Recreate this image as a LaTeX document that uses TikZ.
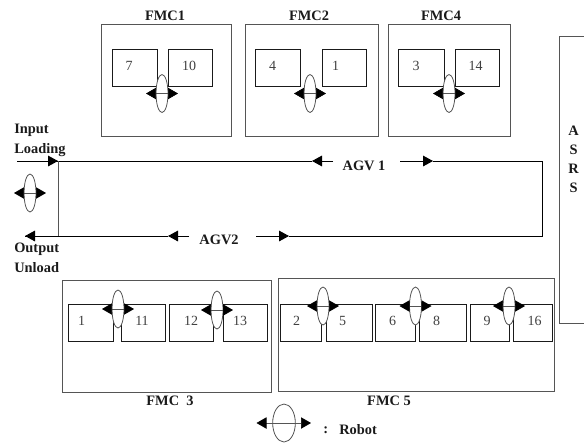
\documentclass[tikz,border=0pt]{standalone}
\usepackage{fontspec}
\setmainfont{Liberation Serif}
\usetikzlibrary{shapes.geometric,arrows.meta,fit}
\definecolor{boxgrey}{HTML}{555555}
\definecolor{inkdark}{HTML}{1A1A1A}
\tikzset{
  cellbox/.style={draw=boxgrey,line width=0.7pt,inner sep=0pt,fit={#1}},
  machine/.style={draw=inkdark,line width=0.6pt,inner sep=0pt,fit={#1}},
  num/.style={font=\fontsize{10.5}{12}\selectfont,text=black!75,inner sep=0pt},
  ttl/.style={font=\fontsize{10.8}{12}\bfseries\selectfont,text=inkdark,inner sep=0pt},
  robotbody/.style={ellipse,draw=boxgrey,fill=white,line width=0.6pt,inner sep=0pt},
  robotarm/.style={draw=boxgrey,line width=0.5pt,{Triangle[length=7.5pt,width=8.5pt,color=black]}-{Triangle[length=7.5pt,width=8.5pt,color=black]}},
  agv/.style={draw=black,line width=0.7pt},
  agvtip/.style={-{Triangle[length=7.5pt,width=8pt,color=black]}},
  plainline/.style={draw=boxgrey,line width=0.7pt}
}
\newcommand{\mkmachine}[7]{% name x1 y1 x2 y2 label labelx
  \node[machine={(#2,#3)(#4,#5)}] (#1) {};
  \node[num] (#1t) at (#7,{#3+16.5}) {#6};
}
\newcommand{\mkrobot}[3]{% name x y
  \node[robotbody,minimum width=9pt,minimum height=28.5pt] (#1) at (#2,#3) {};
  \coordinate (#1L) at ({#2-16},#3);
  \coordinate (#1R) at ({#2+16},#3);
  \draw[robotarm] (#1L) -- (#1R);
}
\begin{document}
\begin{tikzpicture}[x=0.75pt,y=-0.75pt]
\useasboundingbox (0,0) rectangle (584,443);
% FMC boxes
\node[cellbox={(101.5,24)(231,136)}] (fmcA) {};
\node[cellbox={(245,24)(378,136)}] (fmcB) {};
\node[cellbox={(388.5,24)(510,136)}] (fmcD) {};
\node[cellbox={(62,280)(271.5,392)}] (fmcC) {};
\node[cellbox={(278,278)(554,391)}] (fmcE) {};
\node[ttl] (tA) at (165,16) {FMC1};
\node[ttl] (tB) at (309,16) {FMC2};
\node[ttl] (tD) at (441,16) {FMC4};
\node[ttl] (tC) at (170,401) {FMC\ \ 3};
\node[ttl] (tE) at (389,401) {FMC 5};
% machines
\mkmachine{ma}{112.5}{49.5}{157}{86.5}{7}{129}
\mkmachine{mb}{168}{49.5}{212.5}{86.5}{10}{189}
\mkmachine{mc}{255.5}{49.5}{300}{86.5}{4}{272.5}
\mkmachine{md}{322}{49.5}{366.5}{86.5}{1}{335.5}
\mkmachine{me}{398.5}{49.5}{444}{86.5}{3}{416}
\mkmachine{mf}{455}{49.5}{499}{86.5}{14}{475.5}
\mkmachine{mg}{68}{304}{113}{341}{1}{81.5}
\mkmachine{mh}{121}{304}{165.5}{341}{11}{142}
\mkmachine{mi}{169.5}{304}{213.5}{341}{12}{191}
\mkmachine{mj}{223}{304}{267}{341}{13}{240}
\mkmachine{mk}{280}{304}{321.5}{341}{2}{296.5}
\mkmachine{ml}{326}{304}{372.5}{341}{5}{342.5}
\mkmachine{mm}{375.5}{304}{415}{341}{6}{392.5}
\mkmachine{mn}{419.5}{304}{466}{341}{8}{436.5}
\mkmachine{mo}{470.5}{304}{509}{341}{9}{487}
\mkmachine{mp}{513.5}{304}{552.5}{341}{16}{534.5}
% robots
\mkrobot{ra}{162}{93.5}
\mkrobot{rb}{310}{93.5}
\mkrobot{rc}{449}{93.5}
\mkrobot{rd}{30}{193}
\mkrobot{re}{118}{309}
\mkrobot{rf}{217}{310}
\mkrobot{rg}{323}{306}
\mkrobot{rh}{415.5}{306}
\mkrobot{ri}{509}{306}
% legend robot
\node[robotbody,minimum width=17pt,minimum height=28.5pt] (leg) at (284,423) {};
\coordinate (legL) at (256.5,423);
\coordinate (legR) at (311,423);
\draw[robotarm] (legL) -- (legR);
\node[ttl,anchor=west] (legc) at (323,430) {:};
\node[ttl,anchor=west] (legt) at (339,430) {Robot};
% ASRS
\coordinate (asA) at (584,36.5);
\coordinate (asB) at (559,36.5);
\coordinate (asC) at (559,323);
\coordinate (asD) at (584,323);
\draw[plainline] (asA) -- (asB) -- (asC) -- (asD);
\node[ttl,align=center] (asrs) at (573.5,159) {A\\[2.2pt]S\\[2.2pt]R\\[2.2pt]S};
% AGV routes
\coordinate (inS) at (17,161);
\coordinate (jT) at (58,161);
\coordinate (jB) at (58,236);
\coordinate (a1L) at (333,161);
\coordinate (a1Lt) at (312,161);
\coordinate (a1R) at (400,161);
\coordinate (a1Rt) at (433,161);
\coordinate (cT) at (542.5,161);
\coordinate (cB) at (542.5,236);
\coordinate (outE) at (25,236);
\coordinate (a2L) at (189,236);
\coordinate (a2Lt) at (168,236);
\coordinate (a2R) at (256,236);
\coordinate (a2Rt) at (289,236);
\draw[agv] (inS) -- (a1Lt);
\draw[agv,agvtip] (inS) -- (jT);
\draw[agv,agvtip] (a1L) -- (a1Lt);
\draw[agv,agvtip] (a1R) -- (a1Rt);
\draw[agv] (a1Rt) -- (cT) -- (cB) -- (a2Rt);
\draw[agv,agvtip] (a2R) -- (a2Rt);
\draw[agv,agvtip] (a2L) -- (a2Lt);
\draw[agv] (a2Lt) -- (outE);
\draw[agv,agvtip] (jB) -- (outE);
\draw[plainline] (jT) -- (jB);
\node[ttl] (agvA) at (364,166) {AGV 1};
\node[ttl] (agvB) at (219,240) {AGV2};
\node[ttl,anchor=west] (lin) at (14,130) {Input};
\node[ttl,anchor=west] (llo) at (14,150) {Loading};
\node[ttl,anchor=west] (lou) at (14,249) {Output};
\node[ttl,anchor=west] (lun) at (14,268) {Unload};
\end{tikzpicture}
\end{document}
